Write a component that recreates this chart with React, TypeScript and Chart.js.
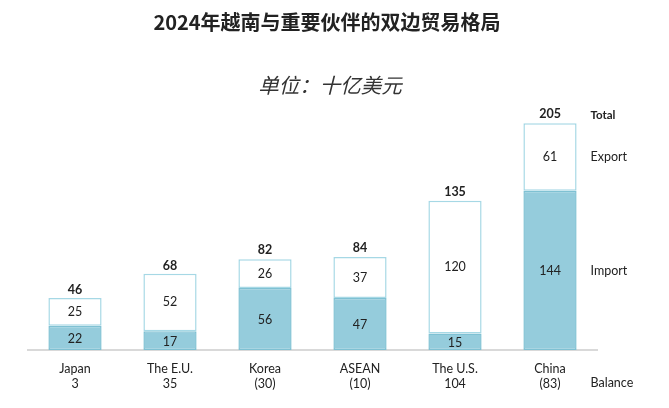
import React, { useEffect, useRef } from "react";
import { Chart, registerables } from "chart.js";

Chart.register(...registerables);

const partners = ["Japan", "The E.U.", "Korea", "ASEAN", "The U.S.", "China"];
const balanceLabels = ["3", "35", "(30)", "(10)", "104", "(83)"];
const importValues = [22, 17, 56, 47, 15, 144];
const exportValues = [25, 52, 26, 37, 120, 61];
const totalValues = [46, 68, 82, 84, 135, 205];

const TITLE = "2024年越南与重要伙伴的双边贸易格局";
const SUBTITLE = "单位：十亿美元";
const LATIN = "Lato, 'Noto Sans', 'Liberation Sans', sans-serif";
const CJK = "'Noto Sans CJK SC', 'Noto Sans', sans-serif";

const annotatePlugin = {
  id: "annotate",
  afterDatasetsDraw(chart: any) {
    const ctx = chart.ctx;
    const impMeta = chart.getDatasetMeta(0);
    const expMeta = chart.getDatasetMeta(1);
    const area = chart.chartArea;
    ctx.save();
    ctx.textAlign = "center";
    ctx.textBaseline = "middle";
    impMeta.data.forEach((bar: any, i: number) => {
      const { x, y, base } = bar.getProps(["x", "y", "base"], true);
      ctx.fillStyle = "#222";
      ctx.font = `12.5px ${LATIN}`;
      ctx.fillText(String(importValues[i]), x, (y + base) / 2 + 1);
    });
    expMeta.data.forEach((bar: any, i: number) => {
      const { x, y, base } = bar.getProps(["x", "y", "base"], true);
      ctx.fillStyle = "#222";
      ctx.font = `12.5px ${LATIN}`;
      ctx.fillText(String(exportValues[i]), x, (y + base) / 2);
      ctx.font = `bold 12.5px ${LATIN}`;
      const ty = chart.scales.y.getPixelForValue(totalValues[i]);
      ctx.fillText(String(totalValues[i]), x, ty - 9);
    });
    const last = partners.length - 1;
    const lastImp = impMeta.data[last].getProps(["x", "y", "base"], true);
    const lastExp = expMeta.data[last].getProps(["x", "y", "base"], true);
    const lx = area.right - 7;
    ctx.textAlign = "left";
    ctx.fillStyle = "#222";
    ctx.font = `bold 11.5px ${LATIN}`;
    ctx.fillText("Total", lx, chart.scales.y.getPixelForValue(totalValues[last]) - 8);
    ctx.font = `12.5px ${LATIN}`;
    ctx.fillText("Export", lx, (lastExp.y + lastExp.base) / 2);
    ctx.fillText("Import", lx, (lastImp.y + lastImp.base) / 2 + 1);
    ctx.fillText("Balance", lx, area.bottom + 33);
    ctx.textAlign = "center";
    ctx.fillStyle = "#222";
    ctx.font = `bold 20px ${CJK}`;
    ctx.fillText(TITLE, 327, 22);
    ctx.fillStyle = "#333";
    ctx.font = `italic 20.5px ${CJK}`;
    ctx.fillText(SUBTITLE, 330, 85);
    ctx.restore();
  },
};

export default function App() {
  const ref = useRef<HTMLCanvasElement>(null);
  useEffect(() => {
    if (!ref.current) return;
    const chart = new Chart(ref.current, {
      type: "bar",
      data: {
        labels: partners.map((p, i) => [p, balanceLabels[i]]),
        datasets: [
          {
            label: "Import",
            data: importValues,
            backgroundColor: "#95ccdc",
            borderColor: "#7fc1d3",
            borderWidth: 1.5,
            borderSkipped: false,
            categoryPercentage: 1,
            barPercentage: 0.56,
          },
          {
            label: "Export",
            data: exportValues,
            backgroundColor: "#ffffff",
            borderColor: "#a6d8e5",
            borderWidth: 1.5,
            borderSkipped: false,
            categoryPercentage: 1,
            barPercentage: 0.56,
          },
        ],
      },
      options: {
        animation: false,
        responsive: false,
        maintainAspectRatio: false,
        layout: { padding: { top: 100, left: 27.5, right: 71.5, bottom: 6 } },
        plugins: {
          legend: { display: false },
          tooltip: { enabled: false },
          title: { display: false },
        },
        scales: {
          x: {
            stacked: true,
            grid: { display: false, drawTicks: false },
            border: { color: "#d9d9d9", width: 2 },
            ticks: {
              color: "#222",
              font: { family: LATIN, size: 12.5, lineHeight: 1.2 },
              padding: 11,
              maxRotation: 0,
              autoSkip: false,
            },
          },
          y: {
            stacked: true,
            display: false,
            min: 0,
            max: 226,
          },
        },
      },
      plugins: [annotatePlugin],
    });
    return () => chart.destroy();
  }, []);
  return (
    <div style={{ position: "fixed", left: 0, top: 0, width: 669, height: 408, background: "#fff" }}>
      <canvas ref={ref} width={669} height={408} style={{ width: 669, height: 408 }} />
    </div>
  );
}
